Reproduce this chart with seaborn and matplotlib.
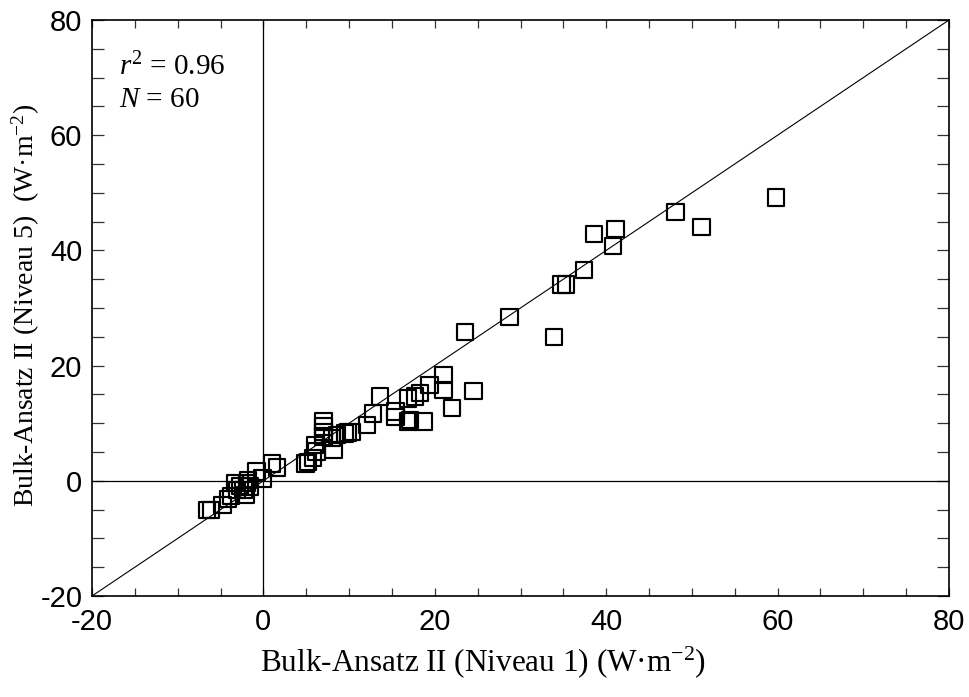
import matplotlib
matplotlib.use("Agg")
import matplotlib.pyplot as plt
from matplotlib.ticker import MultipleLocator
import pandas as pd
import seaborn as sns

# Sensible heat flux from bulk formula II: level 1 vs level 5 (W m^-2)
niveau1 = [-6.6, -6.1, -4.75, -4.1, -3.8, -3.3, -3.1, -2.7, -2.3, -2.1,
           -1.9, -1.8, -1.6, -0.8, -0.1, 1.0, 1.6,
           4.9, 5.2, 5.8, 6.2, 6.0, 7.0, 7.0, 7.0, 7.0,
           8.2, 8.0, 8.6, 9.5, 9.9, 10.3, 12.1, 12.8, 13.6,
           15.4, 15.4, 16.9, 17.1, 16.9, 17.7, 18.7, 18.3, 19.4,
           21.0, 21.0, 22.0, 24.5, 23.5,
           28.7, 33.9, 34.8, 35.3, 37.4, 38.6, 40.8, 41.1, 48.1, 51.1, 59.8]
niveau5 = [-5.1, -5.1, -4.2, -3.2, -2.6, -0.4, -1.6, -0.9, -1.6, -2.5,
           -0.4, 0.1, -1.0, 1.6, 0.4, 3.0, 2.3,
           3.0, 3.3, 4.0, 5.1, 6.2, 10.3, 9.4, 8.5, 7.7,
           5.3, 7.4, 8.0, 8.2, 8.4, 8.5, 9.7, 11.7, 14.6,
           12.0, 11.1, 10.3, 10.6, 14.3, 14.6, 10.3, 15.2, 16.6,
           18.4, 15.8, 12.6, 15.6, 25.8,
           28.4, 25.0, 34.1, 34.1, 36.6, 42.8, 40.8, 43.7, 46.7, 44.1, 49.2]

axis_limits = (-20, 80)
tick_labels = [-20, 0, 20, 40, 60, 80]
r_squared = 0.96
n_samples = len(niveau1)

sns.set_style("ticks")
plt.rcParams["font.family"] = ["Liberation Sans", "DejaVu Sans"]
plt.rcParams["mathtext.fontset"] = "custom"
plt.rcParams["mathtext.rm"] = "Liberation Serif"
plt.rcParams["mathtext.it"] = "Liberation Serif:italic"
for key in ("text.color", "axes.labelcolor", "xtick.color", "ytick.color",
            "axes.edgecolor"):
    plt.rcParams[key] = "black"

df = pd.DataFrame({"niveau1": niveau1, "niveau5": niveau5})

W, H = 969, 697
fig = plt.figure(figsize=(W / 100, H / 100), dpi=100)
ax = fig.add_axes([92 / W, 1 - 596 / H, (949 - 92) / W, (596 - 20) / H])

# reference lines: 1:1 diagonal and the zero axes
ax.axline((0, 0), slope=1, color="black", lw=0.8, zorder=1)
ax.axhline(0, color="black", lw=0.9, zorder=1)
ax.axvline(0, color="black", lw=0.9, zorder=1)

sns.scatterplot(data=df, x="niveau1", y="niveau5", ax=ax, marker="s", s=140,
                color="black", facecolors="none", edgecolor="black",
                linewidth=1.55, zorder=3, legend=False)

ax.set_xlim(*axis_limits)
ax.set_ylim(*axis_limits)
ax.set_xticks(tick_labels)
ax.set_yticks(tick_labels)
ax.set_xticklabels([str(t) for t in tick_labels])
ax.set_yticklabels([str(t) for t in tick_labels])
ax.xaxis.set_minor_locator(MultipleLocator(5))
ax.yaxis.set_minor_locator(MultipleLocator(5))
ax.tick_params(axis="x", which="both", direction="in", top=True, bottom=True,
               length=6, width=0.9, labelsize=21, pad=9, color="#333333",
               labelcolor="black")
ax.tick_params(axis="y", which="both", direction="in", left=True, right=True,
               length=8.5, width=0.9, labelsize=21, pad=7, color="#333333",
               labelcolor="black")
for sp in ax.spines.values():
    sp.set_linewidth(1.2)
    sp.set_color("black")

ax.set_xlabel("")
ax.set_ylabel("")
fig.text(483 / W, 1 - 662 / H, "Bulk-Ansatz II (Niveau 1) (W·m$^{-2}$)",
         family="Liberation Serif", fontsize=22.5, ha="center", va="center",
         color="black")
fig.text(26 / W, 1 - 305 / H, "Bulk-Ansatz II (Niveau 5)  (W·m$^{-2}$)",
         family="Liberation Serif", fontsize=20, ha="center", va="center",
         rotation=90, color="black")

ax.text(119 / W, 1 - 75 / H, f"$r^2$ = {r_squared:.2f}", transform=fig.transFigure,
        family="Liberation Serif", fontsize=21, ha="left", va="baseline",
        color="black")
ax.text(119 / W, 1 - 107 / H, f"$N$ = {n_samples}", transform=fig.transFigure,
        family="Liberation Serif", fontsize=21, ha="left", va="baseline",
        color="black")

fig.savefig("out.png", dpi=100)
